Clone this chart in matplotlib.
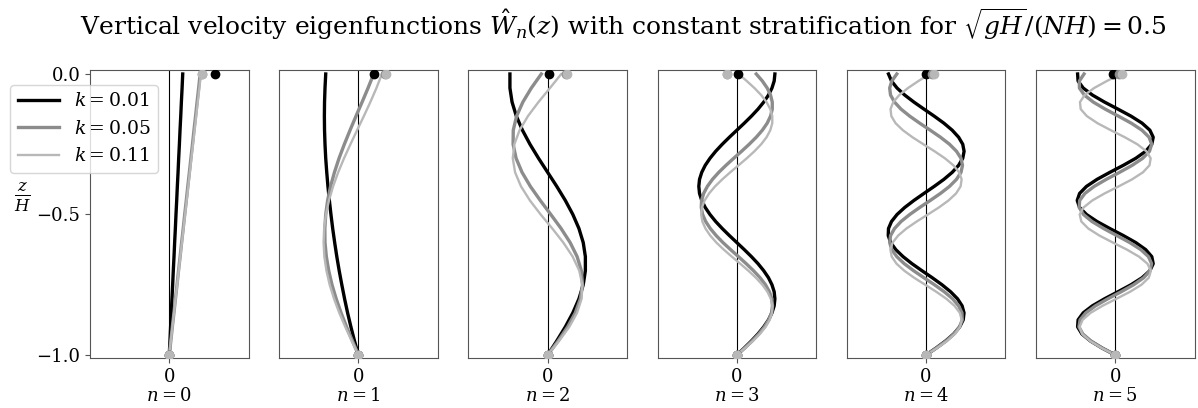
import numpy as np
import matplotlib
matplotlib.use("Agg")
import matplotlib.pyplot as plt

plt.rcParams['font.family'] = 'DejaVu Serif'
plt.rcParams['mathtext.fontset'] = 'dejavuserif'

# wavenumbers and line styles
k_values = [0.01, 0.05, 0.11]
k_colors = ['black', '#8c8c8c', '#b8b8b8']
k_widths = [2.4, 2.4, 1.7]

# depth samples (bottom -> surface)
z_coarse = np.linspace(-1.0, 0.0, 21)
z_fine = np.linspace(-1.0, 0.0, 41)

# eigenfunctions, n = 0..2 on z_coarse
n0_k01 = [0, 0.009, 0.017, 0.026, 0.034, 0.043, 0.051, 0.060, 0.068, 0.077, 0.085,
          0.094, 0.102, 0.111, 0.119, 0.128, 0.136, 0.145, 0.153, 0.162, 0.170]
n0_k05 = [0, 0.020, 0.039, 0.059, 0.078, 0.098, 0.117, 0.137, 0.156, 0.176, 0.195,
          0.215, 0.234, 0.254, 0.273, 0.293, 0.312, 0.332, 0.351, 0.371, 0.390]
n0_k11 = [0, 0.020, 0.040, 0.060, 0.080, 0.100, 0.120, 0.140, 0.160, 0.180, 0.200,
          0.220, 0.240, 0.260, 0.280, 0.300, 0.320, 0.340, 0.360, 0.380, 0.400]

n1_k01 = [0, -0.050, -0.095, -0.137, -0.175, -0.210, -0.243, -0.273, -0.300, -0.325, -0.347,
          -0.367, -0.385, -0.400, -0.413, -0.422, -0.428, -0.430, -0.428, -0.422, -0.413]
n1_k05 = [0, -0.076, -0.150, -0.219, -0.281, -0.334, -0.375, -0.405, -0.422, -0.424, -0.413,
          -0.389, -0.352, -0.303, -0.245, -0.178, -0.106, -0.031, 0.046, 0.121, 0.192]
n1_k11 = [0, -0.085, -0.166, -0.242, -0.308, -0.363, -0.404, -0.430, -0.440, -0.433, -0.410,
          -0.372, -0.320, -0.256, -0.182, -0.101, -0.017, 0.068, 0.150, 0.227, 0.296]

n2_k01 = [0, 0.115, 0.223, 0.318, 0.395, 0.449, 0.476, 0.476, 0.449, 0.395, 0.318,
          0.223, 0.115, 0, -0.115, -0.223, -0.318, -0.395, -0.449, -0.476, -0.476]
n2_k05 = [0, 0.132, 0.252, 0.349, 0.413, 0.440, 0.425, 0.372, 0.284, 0.170, 0.040,
          -0.093, -0.218, -0.323, -0.398, -0.436, -0.434, -0.392, -0.313, -0.206, -0.080]
n2_k11 = [0, 0.144, 0.273, 0.371, 0.428, 0.438, 0.399, 0.316, 0.198, 0.059, -0.088,
          -0.224, -0.336, -0.411, -0.440, -0.420, -0.354, -0.249, -0.116, 0.029, 0.172]

# n = 3..5 on z_fine
n3_k01 = [0, 0.094, 0.184, 0.267, 0.339, 0.399, 0.443, 0.471, 0.480, 0.471, 0.443,
          0.399, 0.339, 0.267, 0.184, 0.094, 0, -0.094, -0.184, -0.267, -0.339,
          -0.399, -0.443, -0.471, -0.480, -0.471, -0.443, -0.399, -0.339, -0.267, -0.184,
          -0.094, 0, 0.094, 0.184, 0.267, 0.339, 0.399, 0.443, 0.471, 0.480]
n3_k05 = [0, 0.099, 0.193, 0.277, 0.348, 0.402, 0.437, 0.450, 0.441, 0.411, 0.361,
          0.293, 0.210, 0.118, 0.020, -0.079, -0.175, -0.261, -0.335, -0.393, -0.432,
          -0.449, -0.445, -0.419, -0.372, -0.308, -0.228, -0.137, -0.040, 0.060, 0.156,
          0.245, 0.322, 0.383, 0.425, 0.447, 0.447, 0.425, 0.383, 0.322, 0.245]
n3_k11 = [0, 0.105, 0.203, 0.291, 0.363, 0.415, 0.444, 0.449, 0.429, 0.386, 0.322,
          0.240, 0.145, 0.042, -0.063, -0.165, -0.258, -0.336, -0.396, -0.435, -0.450,
          -0.440, -0.406, -0.350, -0.275, -0.184, -0.084, 0.021, 0.125, 0.222, 0.307,
          0.375, 0.422, 0.447, 0.447, 0.422, 0.375, 0.307, 0.222, 0.125, 0.021]

n4_k01 = [0, 0.128, 0.247, 0.349, 0.424, 0.469, 0.479, 0.455, 0.397, 0.310, 0.201,
          0.078, -0.052, -0.178, -0.290, -0.382, -0.446, -0.477, -0.474, -0.436, -0.366,
          -0.269, -0.153, -0.026, 0.103, 0.225, 0.330, 0.411, 0.463, 0.480, 0.463,
          0.411, 0.330, 0.225, 0.103, -0.026, -0.153, -0.269, -0.366, -0.436, -0.474]
n4_k05 = [0, 0.132, 0.253, 0.352, 0.422, 0.457, 0.453, 0.411, 0.335, 0.230, 0.106,
          -0.027, -0.157, -0.275, -0.369, -0.432, -0.459, -0.448, -0.398, -0.316, -0.206,
          -0.080, 0.053, 0.182, 0.296, 0.384, 0.441, 0.460, 0.441, 0.384, 0.296,
          0.182, 0.053, -0.080, -0.206, -0.316, -0.398, -0.448, -0.459, -0.432, -0.369]
n4_k11 = [0, 0.140, 0.266, 0.366, 0.429, 0.450, 0.426, 0.359, 0.257, 0.129, -0.011,
          -0.151, -0.275, -0.373, -0.433, -0.450, -0.422, -0.352, -0.248, -0.118, 0.023,
          0.162, 0.284, 0.379, 0.436, 0.449, 0.418, 0.345, 0.238, 0.107, -0.034,
          -0.172, -0.293, -0.385, -0.438, -0.448, -0.414, -0.338, -0.228, -0.096, 0.046]

n5_k01 = [0, -0.168, -0.314, -0.421, -0.475, -0.469, -0.404, -0.288, -0.135, 0.034, 0.199,
          0.339, 0.437, 0.479, 0.461, 0.384, 0.259, 0.102, -0.068, -0.230, -0.363,
          -0.450, -0.480, -0.450, -0.363, -0.230, -0.068, 0.102, 0.259, 0.384, 0.461,
          0.479, 0.437, 0.339, 0.199, 0.034, -0.135, -0.288, -0.404, -0.469, -0.475]
n5_k05 = [0, -0.165, -0.308, -0.410, -0.458, -0.444, -0.371, -0.249, -0.094, 0.074, 0.232,
          0.359, 0.438, 0.459, 0.419, 0.323, 0.184, 0.020, -0.146, -0.293, -0.401,
          -0.455, -0.449, -0.383, -0.266, -0.114, 0.054, 0.214, 0.346, 0.432, 0.460,
          0.427, 0.337, 0.202, 0.040, -0.127, -0.277, -0.390, -0.452, -0.453, -0.394]
n5_k11 = [0, -0.174, -0.320, -0.418, -0.450, -0.412, -0.311, -0.161, 0.014, 0.187, 0.331,
          0.423, 0.450, 0.406, 0.300, 0.147, -0.029, -0.200, -0.340, -0.428, -0.449,
          -0.400, -0.289, -0.134, 0.043, 0.212, 0.349, 0.432, 0.447, 0.393, 0.278,
          0.120, -0.057, -0.225, -0.358, -0.436, -0.445, -0.386, -0.267, -0.106, 0.071]

# surface values (dots at z = 0), one per mode
top_k01 = [0.58, 0.19, 0.02, 0.01, 0.00, -0.03]
top_k05 = [0.41, 0.33, 0.23, -0.12, 0.08, 0.05]
top_k11 = [0.41, 0.35, 0.24, -0.13, 0.10, 0.08]

modes = [
    (z_coarse, [n0_k01, n0_k05, n0_k11]),
    (z_coarse, [n1_k01, n1_k05, n1_k11]),
    (z_coarse, [n2_k01, n2_k05, n2_k11]),
    (z_fine, [n3_k01, n3_k05, n3_k11]),
    (z_fine, [n4_k01, n4_k05, n4_k11]),
    (z_fine, [n5_k01, n5_k05, n5_k11]),
]
tops = [top_k01, top_k05, top_k11]

fig = plt.figure(figsize=(11.98, 4.08), dpi=100)
fig.suptitle(r"Vertical velocity eigenfunctions $\hat{W}_n(z)$ with constant "
             r"stratification for $\sqrt{gH}/(NH) = 0.5$",
             x=0.52, y=0.985, va='top', fontsize=18)

left0, width, step = 90 / 1198, 158.5 / 1198, 189.2 / 1198
bottom, height = 50 / 408, 288 / 408

axes = []
for n, (z, curves) in enumerate(modes):
    ax = fig.add_axes([left0 + n * step, bottom, width, height])
    ax.axvline(0, color='black', lw=0.8, zorder=1)
    for j in range(3):
        ax.plot(curves[j], z, color=k_colors[j], lw=k_widths[j],
                label=r"$k = %.2f$" % k_values[j], zorder=2)
    for j in range(3):
        ax.plot([tops[j][n]], [0.0], 'o', color=k_colors[j], ms=6, zorder=3)
        ax.plot([0.0], [-1.0], 'o', color=k_colors[j], ms=6, zorder=3)
    ax.set_xlim(-1, 1)
    ax.set_ylim(-1.0107, 0.0142)
    ax.set_xticks([0])
    ax.set_xticklabels(['0'], fontsize=13)
    ax.set_xlabel(r"$n = %d$" % n, fontsize=13, labelpad=1)
    for sp in ax.spines.values():
        sp.set_color('#555555')
    ax.tick_params(color='#555555')
    if n == 0:
        ax.set_yticks([0.0, -0.5, -1.0])
        ax.set_yticklabels(['0.0', '−0.5', '−1.0'], fontsize=13)
        ax.set_ylabel(r"$\frac{z}{H}$", rotation=0, fontsize=17, labelpad=10)
    else:
        ax.set_yticks([])
    axes.append(ax)

axes[0].legend(loc='upper left', bbox_to_anchor=(10 / 1198, 1 - 85 / 408),
               bbox_transform=fig.transFigure, borderaxespad=0, fontsize=13.5,
               handlelength=2.2)

fig.savefig('out.png', dpi=100)
